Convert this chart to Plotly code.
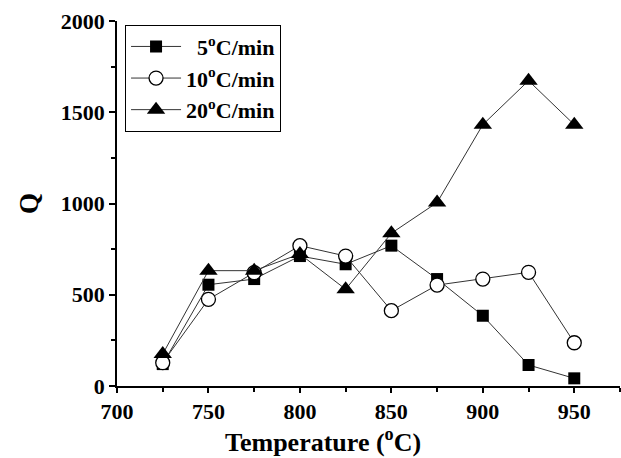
import plotly.graph_objects as go

temps = [725, 750, 775, 800, 825, 850, 875, 900, 925, 950]
q_5 = [120, 555, 586, 712, 667, 769, 586, 385, 115, 42]
q_10 = [128, 475, 621, 769, 712, 413, 553, 586, 623, 237]
q_20 = [175, 632, 632, 723, 530, 837, 1005, 1432, 1673, 1432]
names = ["5<sup>o</sup>C/min", "10<sup>o</sup>C/min", "20<sup>o</sup>C/min"]
x_title = "Temperature (<sup>o</sup>C)"
y_title = "Q"

fig = go.Figure()
fig.add_trace(go.Scatter(x=temps, y=q_5, mode="lines+markers", name="  " + names[0],
                         line=dict(color="#333", width=1),
                         marker=dict(symbol="square", size=12, color="black")))
fig.add_trace(go.Scatter(x=temps, y=q_10, mode="lines+markers", name=names[1],
                         line=dict(color="#333", width=1),
                         marker=dict(symbol="circle", size=14, color="white",
                                     line=dict(color="black", width=1.3))))
fig.add_trace(go.Scatter(x=temps, y=q_20, mode="lines+markers", name=names[2],
                         line=dict(color="#333", width=1),
                         marker=dict(symbol="triangle-up", size=16, color="black")))

bold = "bold"
fig.add_annotation(text=x_title, xref="paper", yref="paper", x=0.41, y=-0.15,
                   xanchor="center", yanchor="middle", showarrow=False,
                   font=dict(family="Liberation Serif", size=26, weight=bold, color="black"))
fig.update_layout(
    width=621, height=458,
    margin=dict(l=117, r=1, t=21, b=72),
    paper_bgcolor="white", plot_bgcolor="white",
    font=dict(family="Liberation Serif", size=20, color="black", weight=bold),
    showlegend=True,
    legend=dict(x=0.016, y=0.99, xanchor="left", yanchor="top",
                bordercolor="black", borderwidth=1, bgcolor="white",
                font=dict(family="Liberation Serif", size=22, color="black", weight=bold),
                itemwidth=50, tracegroupgap=0),
    xaxis=dict(range=[700, 975], tickvals=[700, 750, 800, 850, 900, 950],
               ticks="outside", ticklen=5, tickwidth=1.5, tickcolor="black",
               minor=dict(tickvals=[725, 775, 825, 875, 925, 975], ticks="outside", ticklen=4, tickcolor="black"),
               showline=True, linecolor="black", linewidth=1.5, showgrid=False, zeroline=False,
               tickfont=dict(family="Liberation Serif", size=22, weight=bold)),
    yaxis=dict(range=[0, 2000], tickvals=[0, 500, 1000, 1500, 2000],
               ticks="outside", ticklen=6, tickwidth=1.5, tickcolor="black",
               minor=dict(tickvals=[250, 750, 1250, 1750], ticks="outside", ticklen=4, tickcolor="black"),
               showline=True, linecolor="black", linewidth=1.5, showgrid=False, zeroline=False,
               tickfont=dict(family="Liberation Serif", size=22, weight=bold),
               title=dict(text=y_title, standoff=14,
                          font=dict(family="Liberation Serif", size=27, weight=bold))),
)
fig.write_html("out.html", config={"displayModeBar": False},
               post_script="document.body.style.margin='0';")
